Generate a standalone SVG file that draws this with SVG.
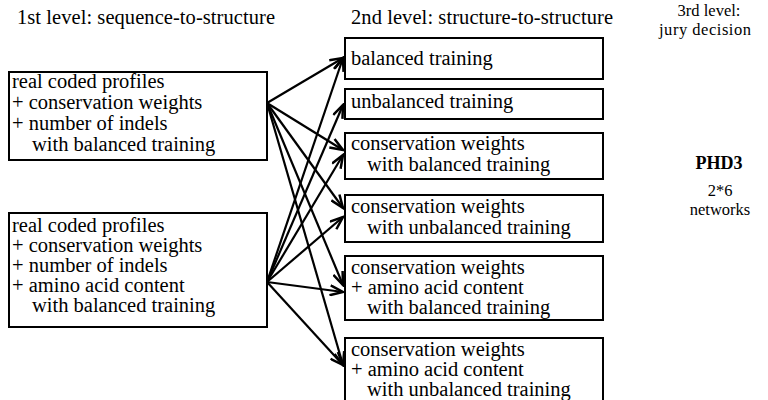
<svg xmlns="http://www.w3.org/2000/svg" width="768" height="400" viewBox="0 0 768 400" font-family="Liberation Serif, Times New Roman, serif">
<style>
text{font-family:'Liberation Serif','Times New Roman',serif;font-size:20.5px;fill:#000}
.box{fill:#fff;stroke:#000;stroke-width:2}
.hdr{font-size:16.5px}
.mid{text-anchor:middle}
.b{font-weight:bold;font-size:18px}
.c line{stroke:#000;stroke-width:2.2;marker-end:url(#ah)}
</style>
<defs>
<marker id="ah" markerUnits="userSpaceOnUse" markerWidth="16" markerHeight="12" refX="14" refY="6" orient="auto" viewBox="0 0 16 12">
<path d="M1,1 L14,6 L1,11" fill="none" stroke="#000" stroke-width="2.5"/>
</marker>
</defs>
<rect width="768" height="400" fill="#fff"/>
<g id="headers">
<text x="17" y="24" textLength="258">1st level: sequence-to-structure</text>
<text x="351" y="24" textLength="262">2nd level: structure-to-structure</text>
<text class="hdr mid" x="709" y="16">3rd level:</text>
<text class="hdr mid" x="705" y="35" textLength="92">jury decision</text>
</g>
<g id="s1">
<rect class="box" x="9" y="72" width="258" height="88"/>
<text x="12" y="88">real coded profiles</text>
<text x="12" y="109">+ conservation weights</text>
<text x="12" y="130">+ number of indels</text>
<text x="32" y="151">with balanced training</text>
</g>
<g id="s2">
<rect class="box" x="9" y="213" width="258" height="114"/>
<text x="12" y="232">real coded profiles</text>
<text x="12" y="252">+ conservation weights</text>
<text x="12" y="272">+ number of indels</text>
<text x="12" y="292">+ amino acid content</text>
<text x="32" y="312">with balanced training</text>
</g>
<g id="t1">
<rect class="box" x="345" y="38" width="258" height="41"/>
<text x="351" y="65">balanced training</text>
</g>
<g id="t2">
<rect class="box" x="345" y="89" width="258" height="30"/>
<text x="351" y="108">unbalanced training</text>
</g>
<g id="t3">
<rect class="box" x="345" y="133" width="258" height="46"/>
<text x="351" y="150">conservation weights</text>
<text x="367" y="171">with balanced training</text>
</g>
<g id="t4">
<rect class="box" x="345" y="195" width="258" height="47"/>
<text x="351" y="213">conservation weights</text>
<text x="367" y="234">with unbalanced training</text>
</g>
<g id="t5">
<rect class="box" x="345" y="256" width="258" height="64"/>
<text x="351" y="274">conservation weights</text>
<text x="351" y="294">+ amino acid content</text>
<text x="367" y="314">with balanced training</text>
</g>
<g id="t6">
<rect class="box" x="345" y="338" width="258" height="66"/>
<text x="351" y="356">conservation weights</text>
<text x="351" y="376">+ amino acid content</text>
<text x="367" y="396">with unbalanced training</text>
</g>
<g id="jury">
<text class="mid b" x="719" y="169">PHD3</text>
<text class="hdr mid" x="720" y="196">2*6</text>
<text class="hdr mid" x="720" y="215">networks</text>
</g>
<g class="c" id="connectors">
<line x1="267" y1="103" x2="343" y2="58"/>
<line x1="267" y1="103" x2="343" y2="150"/>
<line x1="267" y1="103" x2="343" y2="208"/>
<line x1="267" y1="103" x2="343" y2="285"/>
<line x1="267" y1="103" x2="343" y2="365"/>
<line x1="267" y1="282" x2="343" y2="58"/>
<line x1="267" y1="282" x2="343" y2="105"/>
<line x1="267" y1="282" x2="343" y2="155"/>
<line x1="267" y1="282" x2="343" y2="217"/>
<line x1="267" y1="282" x2="343" y2="292"/>
<line x1="267" y1="282" x2="343" y2="365"/>
</g>
</svg>
